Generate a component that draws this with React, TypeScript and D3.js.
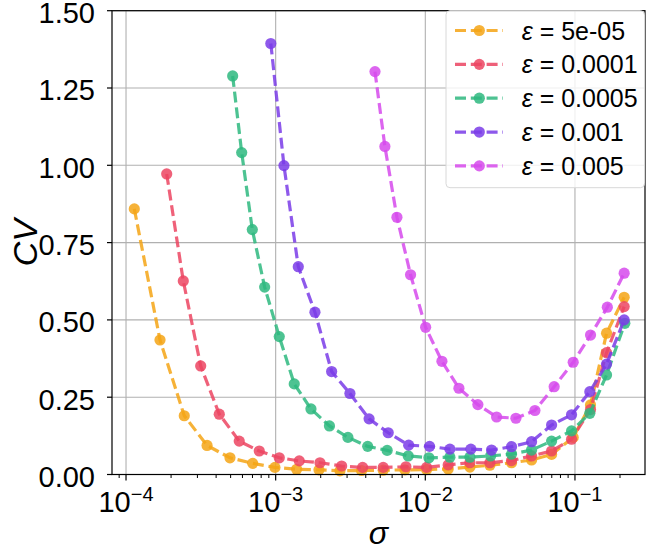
import React from 'react';
import * as d3 from 'd3';

const W = 646;
const H = 547;
const PLOT = { left: 112, right: 645, top: 10.7, bottom: 474.5 };
const FONT = '"Liberation Sans", Arial, sans-serif';

const epsLabels = ['5e-05', '0.0001', '0.0005', '0.001', '0.005'];
const colors = ['#f5a415', '#ec4562', '#2eb87f', '#7a3ce8', '#d64aec'];

const sigmaEps5e5 = [1.136e-4, 1.687e-4, 2.45e-4, 3.48e-4, 4.95e-4, 7.02e-4, 9.89e-4, 1.381e-3, 1.947e-3, 2.69e-3, 3.75e-3, 5.23e-3, 7.31e-3, 1.02e-2, 1.422e-2, 1.986e-2, 2.7e-2, 3.77e-2, 5.13e-2, 6.98e-2, 9.73e-2, 0.127, 0.1626, 0.2132];
const cvEps5e5 = [0.859, 0.435, 0.19, 0.094, 0.054, 0.036, 0.023, 0.017, 0.015, 0.012, 0.013, 0.014, 0.015, 0.016, 0.018, 0.024, 0.03, 0.038, 0.047, 0.065, 0.12, 0.225, 0.457, 0.573];

const sigmaEps1e4 = [1.87e-4, 2.414e-4, 3.155e-4, 4.2e-4, 5.71e-4, 7.77e-4, 1.057e-3, 1.438e-3, 1.977e-3, 2.76e-3, 3.81e-3, 5.23e-3, 7.42e-3, 1.02e-2, 1.422e-2, 1.986e-2, 2.7e-2, 3.77e-2, 5.13e-2, 6.98e-2, 9.49e-2, 0.127, 0.1626, 0.2132];
const cvEps1e4 = [0.972, 0.626, 0.351, 0.195, 0.108, 0.076, 0.054, 0.044, 0.038, 0.0275, 0.023, 0.023, 0.025, 0.023, 0.031, 0.038, 0.038, 0.045, 0.06, 0.076, 0.114, 0.21, 0.394, 0.543];

const sigmaEps5e4 = [5.16e-4, 5.93e-4, 6.98e-4, 8.44e-4, 1.057e-3, 1.331e-3, 1.721e-3, 2.288e-3, 3.04e-3, 4.12e-3, 5.56e-3, 7.69e-3, 1.057e-2, 1.46e-2, 1.986e-2, 2.73e-2, 3.77e-2, 5.13e-2, 6.98e-2, 9.49e-2, 0.1257, 0.1626, 0.2154];
const cvEps5e4 = [1.289, 1.041, 0.792, 0.606, 0.446, 0.293, 0.212, 0.157, 0.12, 0.091, 0.078, 0.06, 0.054, 0.056, 0.056, 0.06, 0.066, 0.079, 0.108, 0.141, 0.198, 0.322, 0.489];

const sigmaEps1e3 = [9.28e-4, 1.136e-3, 1.416e-3, 1.83e-3, 2.366e-3, 3.135e-3, 4.21e-3, 5.65e-3, 7.74e-3, 1.068e-2, 1.46e-2, 2.016e-2, 2.77e-2, 3.77e-2, 5.13e-2, 6.98e-2, 9.49e-2, 0.1257, 0.1626, 0.2132];
const cvEps1e3 = [1.394, 0.999, 0.672, 0.525, 0.333, 0.262, 0.18, 0.135, 0.095, 0.091, 0.082, 0.082, 0.079, 0.09, 0.106, 0.16, 0.193, 0.268, 0.357, 0.5];

const sigmaEps5e3 = [4.61e-3, 5.37e-3, 6.46e-3, 7.97e-3, 1.005e-2, 1.291e-2, 1.677e-2, 2.245e-2, 2.995e-2, 4.03e-2, 5.4e-2, 7.26e-2, 9.73e-2, 0.1271, 0.1646, 0.2132];
const cvEps5e3 = [1.303, 1.061, 0.832, 0.646, 0.476, 0.366, 0.279, 0.226, 0.186, 0.182, 0.207, 0.284, 0.363, 0.451, 0.541, 0.651];

const sigmaSeries = [sigmaEps5e5, sigmaEps1e4, sigmaEps5e4, sigmaEps1e3, sigmaEps5e3];
const cvSeries = [cvEps5e5, cvEps1e4, cvEps5e4, cvEps1e3, cvEps5e3];

const yTicks = [0, 0.25, 0.5, 0.75, 1.0, 1.25, 1.5];
const xTickExps = [-4, -3, -2, -1];
const xDomain = [8.06e-5, 0.2938];
const yDomain = [0, 1.5];

export default function App() {
  const x = d3.scaleLog().domain(xDomain).range([PLOT.left, PLOT.right]);
  const y = d3.scaleLinear().domain(yDomain).range([PLOT.bottom, PLOT.top]);
  const line = d3
    .line<[number, number]>()
    .x((d) => x(d[0]))
    .y((d) => y(d[1]));

  const minorTicks: number[] = [];
  for (let e = -5; e <= 0; e++) {
    for (let m = 2; m <= 9; m++) {
      const v = m * Math.pow(10, e);
      if (v >= xDomain[0] && v <= xDomain[1]) minorTicks.push(v);
    }
  }

  const dash = '11,4.8';
  const lw = 3.2;
  const r = 5.6;
  const alpha = 0.85;

  const legendX = 446;
  const legendY = 10.7;
  const legendW = 198.5;
  const legendH = 177;
  const rowY = (i: number) => 30.5 + i * 33.85;

  return (
    <svg
      width={W}
      height={H}
      style={{ position: 'absolute', left: 0, top: 0, background: '#fff' }}
      fontFamily={FONT}
    >
      <rect x={0} y={0} width={W} height={H} fill="#fff" />
      {/* grid */}
      {yTicks.map((t) => (
        <line key={'gy' + t} x1={PLOT.left} x2={PLOT.right} y1={y(t)} y2={y(t)} stroke="#b0b0b0" strokeWidth={1.1} />
      ))}
      {xTickExps.map((e) => (
        <line key={'gx' + e} x1={x(Math.pow(10, e))} x2={x(Math.pow(10, e))} y1={PLOT.top} y2={PLOT.bottom} stroke="#b0b0b0" strokeWidth={1.1} />
      ))}

      {/* series */}
      {sigmaSeries.map((sig, i) => {
        const pts: [number, number][] = sig.map((s, j) => [s, cvSeries[i][j]]);
        return (
          <g key={'s' + i}>
            <path d={line(pts) || ''} fill="none" stroke={colors[i]} strokeWidth={lw} strokeDasharray={dash} opacity={alpha} />
            {pts.map((p, j) => (
              <circle key={j} cx={x(p[0])} cy={y(p[1])} r={r} fill={colors[i]} opacity={alpha} />
            ))}
          </g>
        );
      })}

      {/* spines */}
      <rect x={PLOT.left} y={PLOT.top} width={PLOT.right - PLOT.left} height={PLOT.bottom - PLOT.top} fill="none" stroke="#000" strokeWidth={1.2} />

      {/* y ticks */}
      {yTicks.map((t) => (
        <g key={'yt' + t}>
          <line x1={PLOT.left - 5} x2={PLOT.left} y1={y(t)} y2={y(t)} stroke="#000" strokeWidth={1.2} />
          <text x={95} y={y(t)} dy="0.43em" textAnchor="end" fontSize={29} fill="#000">
            {t.toFixed(2)}
          </text>
        </g>
      ))}

      {/* x ticks */}
      {minorTicks.map((v) => (
        <line key={'mx' + v} x1={x(v)} x2={x(v)} y1={PLOT.bottom} y2={PLOT.bottom + 3.5} stroke="#000" strokeWidth={1} />
      ))}
      {xTickExps.map((e) => (
        <g key={'xt' + e}>
          <line x1={x(Math.pow(10, e))} x2={x(Math.pow(10, e))} y1={PLOT.bottom} y2={PLOT.bottom + 6} stroke="#000" strokeWidth={1.2} />
          <text x={x(Math.pow(10, e))} y={512} textAnchor="middle" fontSize={29} fill="#000">
            10
            <tspan dy={-11} fontSize={20}>
              {'\u2212' + Math.abs(e)}
            </tspan>
          </text>
        </g>
      ))}

      {/* axis labels */}
      <text x={378.5} y={544} textAnchor="middle" fontSize={32} fontStyle="italic" fill="#000">
        σ
      </text>
      <text transform="translate(37,242.6) rotate(-90)" textAnchor="middle" fontSize={34} fontStyle="italic" fill="#000">
        CV
      </text>

      {/* legend */}
      <rect x={legendX} y={legendY} width={legendW} height={legendH} rx={4} ry={4} fill="#fff" fillOpacity={0.8} stroke="#d8d8d8" strokeWidth={1} />
      {epsLabels.map((lab, i) => (
        <g key={'lg' + i}>
          <line x1={455} x2={503} y1={rowY(i)} y2={rowY(i)} stroke={colors[i]} strokeWidth={lw} strokeDasharray={dash} opacity={alpha} />
          <circle cx={479.3} cy={rowY(i)} r={r} fill={colors[i]} opacity={alpha} />
          <text x={521.7} y={rowY(i)} dy="0.36em" fontSize={25} fill="#000">
            <tspan fontStyle="italic">ε</tspan>
            {' = ' + lab}
          </text>
        </g>
      ))}
    </svg>
  );
}
